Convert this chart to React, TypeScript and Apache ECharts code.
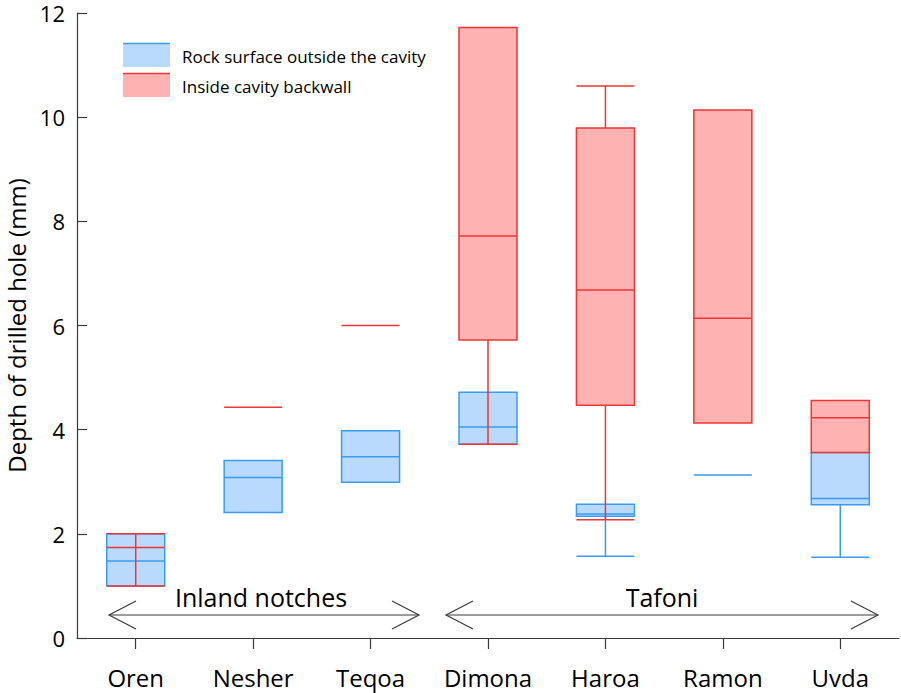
import React, { useEffect, useRef } from "react";
import * as echarts from "echarts";

// Sites along the x axis
const categories = ["Oren", "Nesher", "Teqoa", "Dimona", "Haroa", "Ramon", "Uvda"];

// Box statistics per site: [min, Q1, median, Q3, max] in mm
const outsideStats: number[][] = [
  [1.0, 1.0, 1.48, 2.0, 2.0],
  [2.41, 2.41, 3.08, 3.41, 3.41],
  [2.99, 2.99, 3.48, 3.98, 3.98],
  [3.72, 3.72, 4.05, 4.72, 4.72],
  [1.57, 2.34, 2.38, 2.57, 2.57],
  [3.13, 3.13, 3.13, 3.13, 3.13],
  [1.55, 2.56, 2.68, 3.56, 3.56],
];

const insideStats: number[][] = [
  [1.0, 1.74, 1.74, 1.74, 2.0],
  [4.43, 4.43, 4.43, 4.43, 4.43],
  [6.0, 6.0, 6.0, 6.0, 6.0],
  [3.72, 5.72, 7.72, 11.72, 11.72],
  [2.27, 4.47, 6.68, 9.79, 10.6],
  [4.13, 4.13, 6.14, 10.14, 10.14],
  [3.56, 3.56, 4.23, 4.56, 4.56],
];

const seriesNames = ["Rock surface outside the cavity", "Inside cavity backwall"];
const groupLabels = ["Inland notches", "Tafoni"];

const yMin = 0;
const yMax = 12;
const yInterval = 2;

const FONT = "'Open Sans', sans-serif";
const BLUE_FILL = "#b9dafc";
const BLUE_LINE = "#3a9cf0";
const RED_FILL = "#ffb2b2";
const RED_LINE = "#f03535";
const AXIS = "#3a3a3a";

// Double-headed open arrow spanning a group of sites
function arrow(x1: number, x2: number, y: number) {
  const hl = 27;
  const hh = 14;
  const style = { stroke: AXIS, lineWidth: 1.2, fill: "none" };
  return [
    { type: "line", shape: { x1, y1: y, x2, y2: y }, style },
    { type: "polyline", shape: { points: [[x1 + hl, y - hh], [x1, y], [x1 + hl, y + hh]] }, style },
    { type: "polyline", shape: { points: [[x2 - hl, y - hh], [x2, y], [x2 - hl, y + hh]] }, style },
  ];
}

function legendItem(y: number, fill: string, line: string, text: string) {
  return [
    { type: "rect", shape: { x: 123, y, width: 47, height: 24 }, style: { fill } },
    { type: "line", shape: { x1: 123, y1: y + 0.5, x2: 170, y2: y + 0.5 }, style: { stroke: line, lineWidth: 1.5 } },
    {
      type: "text",
      x: 182,
      y: y + 13,
      style: { text, fontFamily: FONT, fontSize: 17, fill: "#000", verticalAlign: "middle", align: "left" },
    },
  ];
}

export default function App() {
  const ref = useRef<HTMLDivElement>(null);

  useEffect(() => {
    document.body.style.margin = "0";
    if (!ref.current) return;
    const chart = echarts.init(ref.current, undefined, { renderer: "svg" });

    const xAxisBase = {
      type: "category",
      data: categories,
      boundaryGap: true,
    };

    chart.setOption({
      animation: false,
      backgroundColor: "#ffffff",
      grid: { left: 77, right: 2, top: 13, bottom: 55, containLabel: false, outerBoundsMode: "none" },
      xAxis: [
        {
          ...xAxisBase,
          axisLine: { show: true, lineStyle: { color: AXIS, width: 1.2 } },
          axisTick: { show: true, alignWithLabel: true, inside: false, length: 11, lineStyle: { color: AXIS, width: 1.2 } },
          axisLabel: { fontFamily: FONT, fontSize: 24, color: "#000", margin: 27 },
          splitLine: { show: false },
        },
        { ...xAxisBase, show: false },
      ],
      yAxis: {
        type: "value",
        min: yMin,
        max: yMax,
        interval: yInterval,
        name: "Depth of drilled hole (mm)",
        nameLocation: "middle",
        nameRotate: 90,
        nameGap: 45,
        nameTextStyle: { fontFamily: FONT, fontSize: 24, color: "#000" },
        axisLine: { show: true, lineStyle: { color: AXIS, width: 1.2 } },
        axisTick: { show: true, inside: true, length: 10, lineStyle: { color: AXIS, width: 1.2 } },
        axisLabel: { fontFamily: FONT, fontSize: 22, lineHeight: 18, color: "#000", margin: 12 },
        splitLine: { show: false },
      },
      series: [
        {
          name: seriesNames[0],
          type: "boxplot",
          xAxisIndex: 0,
          data: outsideStats,
          boxWidth: [58, 58],
          itemStyle: { color: BLUE_FILL, borderColor: BLUE_LINE, borderWidth: 1.5 },
          emphasis: { disabled: true },
          z: 2,
        },
        {
          name: seriesNames[1],
          type: "boxplot",
          xAxisIndex: 1,
          data: insideStats,
          boxWidth: [58, 58],
          itemStyle: { color: RED_FILL, borderColor: RED_LINE, borderWidth: 1.5 },
          emphasis: { disabled: true },
          z: 3,
        },
      ],
      graphic: [
        ...legendItem(43, BLUE_FILL, BLUE_LINE, seriesNames[0]),
        ...legendItem(73, RED_FILL, RED_LINE, seriesNames[1]),
        ...arrow(109, 419, 615),
        ...arrow(446, 878, 615),
        {
          type: "text",
          x: 261,
          y: 597,
          style: { text: groupLabels[0], fontFamily: FONT, fontSize: 25, fill: "#000", align: "center", verticalAlign: "middle" },
        },
        {
          type: "text",
          x: 662,
          y: 597,
          style: { text: groupLabels[1], fontFamily: FONT, fontSize: 25, fill: "#000", align: "center", verticalAlign: "middle" },
        },
      ],
    });

    return () => chart.dispose();
  }, []);

  return <div ref={ref} style={{ width: 901, height: 693 }} />;
}
